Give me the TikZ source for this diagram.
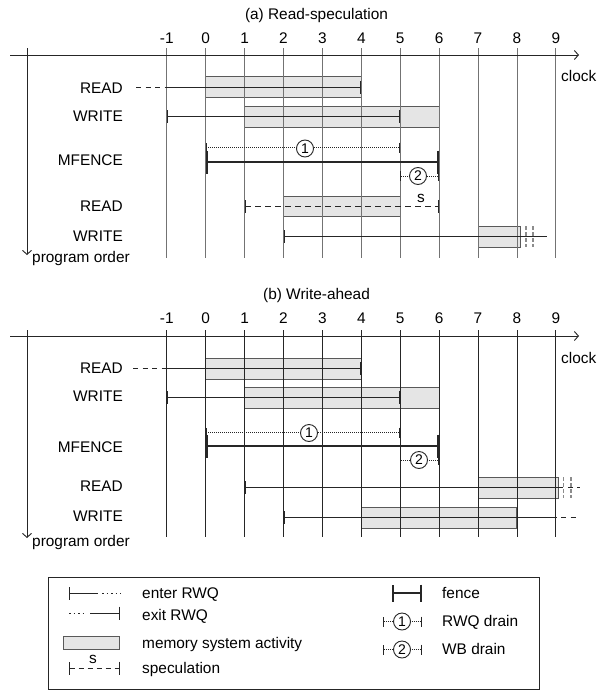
\documentclass[tikz,border=0pt]{standalone}
\usepackage{fontspec}
\setmainfont{Liberation Sans}
\usetikzlibrary{arrows.meta}
\pgfmathdeclarefunction{ck}{1}{\pgfmathparse{205.7+38.9*#1}}
\begin{document}
\begin{tikzpicture}[x=1pt,y=-1pt,
  every node/.style={font=\fontsize{15.4}{18}\selectfont, inner sep=0pt},
  lbl/.style={anchor=base east},
  txt/.style={anchor=base west},
  tick/.style={anchor=base},
  gridA/.style={draw=black!55, line width=0.8pt},
  gridB/.style={draw=black!85, line width=0.8pt},
  axis/.style={draw=black!85, line width=0.9pt, -{Straight Barb[length=4pt,width=9pt]}},
  act/.style={draw=black!65, fill=black!10, line width=0.9pt},
  op/.style={line width=0.9pt, draw=black!85},
  fen/.style={line width=2.4pt, draw=black!85},
  dots/.style={line width=0.8pt, draw=black!85, dash pattern=on 0.8pt off 1.2pt},
  dsh/.style={line width=0.9pt, draw=black!85, dash pattern=on 6pt off 4pt},
  ldsh/.style={line width=0.9pt, draw=black!85, dash pattern=on 5pt off 4.5pt},
  brk/.style={line width=1.3pt, draw=black!45, dash pattern=on 4pt off 2pt},
  num/.style={circle, draw=black!85, line width=0.9pt, fill=white, minimum size=17pt, font=\fontsize{14}{16}\selectfont},
  EB/.tip={Bar[width=13pt]},
  SB/.tip={Bar[width=10pt]},
  FB/.tip={Bar[width=23pt]}]
\useasboundingbox (0,0) rectangle (597,691);

% ================= (a) =================
\node[tick] (ta) at (316.5,19.5) {(a) Read-speculation};
\foreach \c in {-1,...,9} \node[tick] (ta\c) at ({ck(\c)},43) {\c};
% boxes
\draw[act] ({ck(0)},76.5) rectangle ({ck(4)},97.5);
\draw[act] ({ck(1)},106.7) rectangle ({ck(6)},127.3);
\draw[act] ({ck(2)},196) rectangle ({ck(5)},216.7);
\draw[act] ({ck(7)},226) rectangle (520.7,247.3);
% grid
\foreach \c in {-1,...,9} \draw[gridA] ({ck(\c)},48) -- ({ck(\c)},257.5);
\draw[axis] (10,55) -- (579,55);
\node[txt] (clka) at (561,81) {clock};
\draw[axis] (27,48) -- (27,255);
\node[txt] (poa) at (32,262.7) {program order};
% labels
\node[lbl] (ra1) at (123,93.3) {READ};
\node[lbl] (wa1) at (123,121.7) {WRITE};
\node[lbl] (ma) at (123,165) {MFENCE};
\node[lbl] (ra2) at (123,211) {READ};
\node[lbl] (wa2) at (123,241) {WRITE};
% operations
\draw[ldsh] (136,87.3) -- ({ck(-1)},87.3);
\draw[op,-EB] ({ck(-1)},87.3) -- ({ck(4)},87.3);
\draw[op,EB-EB] ({ck(-1)},116.5) -- ({ck(5)},116.5);
\draw[dots,SB-SB] ({ck(0)},147.5) -- ({ck(5)},147.5);
\draw[fen,FB-FB] ({ck(0)},162) -- ({ck(6)},162);
\draw[dots,SB-SB] ({ck(5)},176) -- ({ck(6)},176);
\node[num] (c1a) at (305,148.5) {1};
\node[num] (c2a) at (418,176) {2};
\draw[dsh,EB-EB] ({ck(1)},206.3) -- ({ck(6)},206.3);
\node[tick] (sa) at (421,202) {s};
\draw[op,EB-] ({ck(2)},236) -- (547,236);
\draw[brk] (526,226) -- (526,247.3);
\draw[brk] (533,226) -- (533,247.3);

% ================= (b) =================
\node[tick] (tb) at (316.5,299) {(b) Write-ahead};
\foreach \c in {-1,...,9} \node[tick] (tb\c) at ({ck(\c)},323) {\c};
\draw[act] ({ck(0)},358.3) rectangle ({ck(4)},379);
\draw[act] ({ck(1)},387.3) rectangle ({ck(6)},408.3);
\draw[act] ({ck(7)},477.3) rectangle (558.3,498.3);
\draw[act] ({ck(4)},507.3) rectangle ({ck(8)},528.3);
\foreach \c in {-1,...,9} \draw[gridB] ({ck(\c)},330) -- ({ck(\c)},537);
\draw[axis] (10,336) -- (579,336);
\node[txt] (clkb) at (561,363) {clock};
\draw[axis] (27,330) -- (27,538);
\node[txt] (pob) at (32,546) {program order};
\node[lbl] (rb1) at (123,373) {READ};
\node[lbl] (wb1) at (123,401.7) {WRITE};
\node[lbl] (mb) at (123,452) {MFENCE};
\node[lbl] (rb2) at (123,491.7) {READ};
\node[lbl] (wb2) at (123,521.7) {WRITE};
\draw[ldsh] (133,368.5) -- ({ck(-1)},368.5);
\draw[op,-EB] ({ck(-1)},368.5) -- ({ck(4)},368.5);
\draw[op,EB-EB] ({ck(-1)},397) -- ({ck(5)},397);
\draw[dots,SB-SB] ({ck(0)},432.5) -- ({ck(5)},432.5);
\draw[fen,FB-FB] ({ck(0)},446) -- ({ck(6)},446);
\draw[dots,SB-SB] ({ck(5)},460) -- ({ck(6)},460);
\node[num] (c1b) at (309,433) {1};
\node[num] (c2b) at (419,460) {2};
\draw[op,EB-] ({ck(1)},487) -- (558.3,487);
\draw[ldsh] (558.3,487) -- (580,487);
\draw[brk] (563.5,477.3) -- (563.5,498.3);
\draw[brk] (571,477.3) -- (571,498.3);
\draw[op,EB-] ({ck(2)},517) -- (557,517);
\draw[ldsh] (561,517) -- (580,517);

% ================= legend =================
\draw[line width=0.9pt, draw=black!85] (48,577) rectangle (539,689);
\draw[op,EB-] (69,593) -- (98,593);
\draw[dots, dash pattern=on 1.5pt off 3pt] (102,593) -- (121,593);
\node[txt] (l1) at (142,598) {enter RWQ};
\draw[dots, dash pattern=on 1.5pt off 3pt] (69,613) -- (87,613);
\draw[op,-EB] (90,613) -- (120,613);
\node[txt] (l2) at (142,620) {exit RWQ};
\draw[act] (63.5,636.5) rectangle (119.5,649.5);
\node[txt] (l3) at (142,648) {memory system activity};
\draw[line width=0.9pt, draw=black!85, dash pattern=on 5pt off 4pt, EB-EB] (69,668) -- (120,668);
\node[tick] (ls) at (93,663) {s};
\node[txt] (l4) at (142,673) {speculation};
\draw[fen,{Bar[width=17pt]}-{Bar[width=17pt]}] (392,593) -- (422,593);
\node[txt] (l5) at (442,598) {fence};
\draw[dots,SB-SB] (383,621.5) -- (422,621.5);
\node[num] (l6c) at (402,621.5) {1};
\node[txt] (l6) at (442,626) {RWQ drain};
\draw[dots,SB-SB] (383,649.5) -- (422,649.5);
\node[num] (l7c) at (402,649.5) {2};
\node[txt] (l7) at (442,654) {WB drain};
\end{tikzpicture}
\end{document}
